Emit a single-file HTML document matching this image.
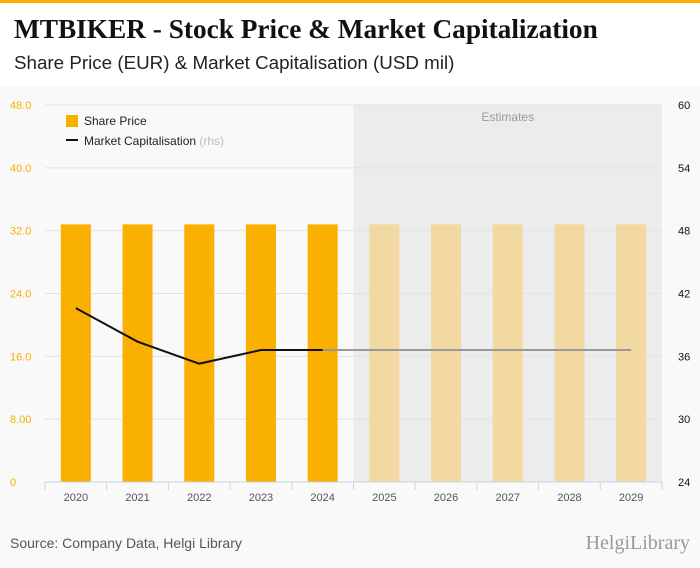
<!DOCTYPE html>
<html><head><meta charset="utf-8"><style>
body{margin:0;width:700px;height:568px;background:#f9f9f9;font-family:"Liberation Sans",sans-serif;overflow:hidden;position:relative}
#header{position:absolute;left:0;top:0;width:700px;height:86px;background:#fff}
#topbar{position:absolute;left:0;top:0;width:700px;height:3px;background:#f9b000}
#title{position:absolute;left:14px;top:14px;font-family:"Liberation Serif",serif;font-weight:bold;font-size:27.3px;color:#111}
#subtitle{position:absolute;left:14px;top:52px;font-size:18.8px;color:#222}
#source{position:absolute;left:10px;top:535px;font-size:14px;color:#555}
#logo{position:absolute;right:10px;top:532px;font-family:"Liberation Serif",serif;font-size:20px;color:#999}
svg{position:absolute;left:0;top:0}
</style></head><body>
<div id="header"></div>
<div id="topbar"></div>
<div id="title">MTBIKER - Stock Price &amp; Market Capitalization</div>
<div id="subtitle">Share Price (EUR) &amp; Market Capitalisation (USD mil)</div>
<div id="source">Source: Company Data, Helgi Library</div>
<div id="logo">HelgiLibrary</div>
<svg id="chart" width="700" height="568"></svg>
<script>
const categories=["2020","2021","2022","2023","2024","2025","2026","2027","2028","2029"];
const sharePrice=[32.8,32.8,32.8,32.8,32.8,32.8,32.8,32.8,32.8,32.8];
const marketCap=[40.6,37.4,35.3,36.6,36.6,36.6,36.6,36.6,36.6,36.6];
const leftTicks=["0","8.00","16.0","24.0","32.0","40.0","48.0"];
const rightTicks=["24","30","36","42","48","54","60"];
const nActual=5;
const NS="http://www.w3.org/2000/svg";
const svg=document.getElementById('chart');
const X0=45,X1=662,Y0=482,Y1=105;
const cw=(X1-X0)/categories.length;
const yL=v=>Y0-(v/48)*(Y0-Y1);
const yR=v=>Y0-((v-24)/36)*(Y0-Y1);
const xc=i=>X0+cw*(i+0.5);
function el(t,a){const e=document.createElementNS(NS,t);for(const k in a)e.setAttribute(k,a[k]);svg.appendChild(e);return e;}
let e=el('rect',{x:X0+cw*nActual,y:Y1,width:X1-X0-cw*nActual,height:Y0-Y1,fill:'#ececec'});


e=el('text',{x:X0+cw*nActual+(X1-X0-cw*nActual)/2,y:121,'text-anchor':'middle','font-size':12,fill:'#999'});e.textContent='Estimates';


leftTicks.forEach((t,i)=>{const y=yL(i*8);
 const g=el('line',{x1:X0,x2:X1,y1:y,y2:y,stroke:'#e2e2e2'});
 
 
 const a=el('text',{x:10,y:y+4,'font-size':11,fill:'#f9b000'});a.textContent=t;
 
 
 const b=el('text',{x:678,y:y+4,'font-size':11,fill:'#111'});b.textContent=rightTicks[i];
 
 
});
categories.forEach((c,i)=>{
 const r=el('rect',{x:xc(i)-15,y:yL(sharePrice[i]),width:30,height:Y0-yL(sharePrice[i]),fill:i<nActual?'#f9b000':'#f2d9a2'});
 
 
 const t=el('text',{x:xc(i),y:501,'text-anchor':'middle','font-size':11,fill:'#555'});t.textContent=c;
 
 
 const tk=el('line',{x1:X0+cw*i,x2:X0+cw*i,y1:Y0,y2:Y0+8,stroke:'#c8d4e8'});
 
 
});
e=el('line',{x1:X1,x2:X1,y1:Y0,y2:Y0+8,stroke:'#c8d4e8'});


e=el('line',{x1:X0,x2:X1,y1:Y0,y2:Y0,stroke:'#c8d4e8'});


const act=marketCap.slice(0,nActual).map((v,i)=>xc(i)+','+yR(v)).join(' ');
const est=marketCap.slice(nActual-1).map((v,i)=>xc(i+nActual-1)+','+yR(v)).join(' ');
e=el('polyline',{points:est,fill:'none',stroke:'#999',"stroke-width":2});


e=el('polyline',{points:act,fill:'none',stroke:'#111',"stroke-width":2});


e=el('rect',{x:66,y:115,width:12,height:12,fill:'#f9b000'});


e=el('text',{x:84,y:125,'font-size':12,fill:'#222'});e.textContent='Share Price';


e=el('line',{x1:66,x2:78,y1:140,y2:140,stroke:'#111','stroke-width':2});


e=el('text',{x:84,y:145,'font-size':12,fill:'#222'});e.innerHTML='Market Capitalisation <tspan fill="#bbb">(rhs)</tspan>';


</script>
</body></html>
